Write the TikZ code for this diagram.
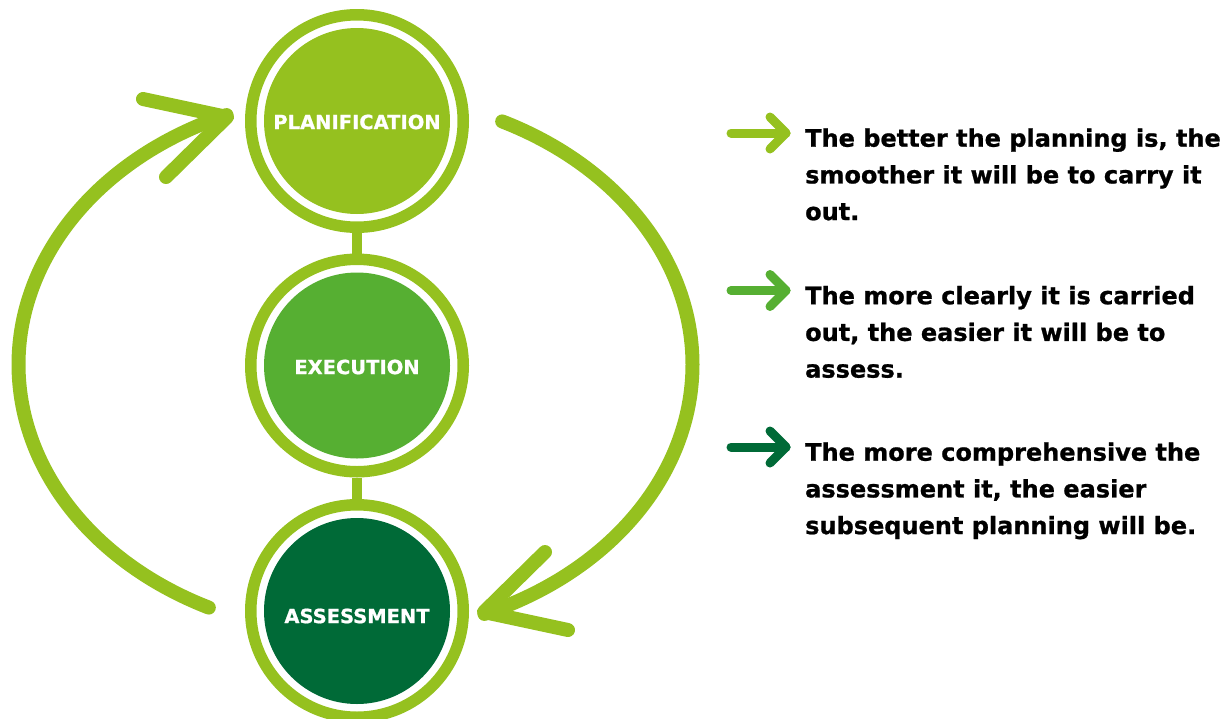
\documentclass[tikz,border=0pt]{standalone}
\usepackage{fontspec}
\setmainfont{DejaVu Sans}
\newfontfamily\heavyfont[FakeBold=0.9]{DejaVu Sans Bold}
\definecolor{lg}{HTML}{95C11F}
\definecolor{mg}{HTML}{56AF32}
\definecolor{dg}{HTML}{006A37}
\begin{document}
\begin{tikzpicture}[x=1pt,y=-1pt,
  ringnode/.style={circle, draw=lg, line width=11.5pt, minimum size=212.5pt, inner sep=0pt},
  stage/.style={circle, minimum size=186pt, inner sep=0pt},
  stagetext/.style={inner sep=0pt, text=white, font=\heavyfont\fontsize{19.5}{22}\selectfont},
  stem/.style={draw=lg, line width=10pt},
  loopline/.style={draw=lg, line width=14pt, line cap=round, line join=round},
  bullet/.style={line width=9pt, line cap=round, line join=round},
  txt/.style={anchor=base west, inner sep=0pt, font=\heavyfont\fontsize{24}{36.7}\selectfont}
]
\useasboundingbox (0,0) rectangle (1231,718);
\clip (0,0) rectangle (1231,718);

% rings
\node[ringnode] (pr) at (357,121) {};
\node[ringnode] (er) at (357,365.5) {};
\node[ringnode] (ar) at (357,611) {};
% stems
\draw[stem] (pr.south) -- (er.north);
\draw[stem] (er.south) -- (ar.north);
% inner discs
\node[stage, fill=lg] (p) at (357,121) {};
\node[stage, fill=mg] (e) at (357,365.5) {};
\node[stage, fill=dg] (a) at (357,611) {};
\node[stagetext] (pt) at (357,122) {PLANIFICATION};
\node[stagetext] (et) at (357,367) {EXECUTION};
\node[stagetext] (at) at (357,616) {ASSESSMENT};

% big cycle arrows
\draw[loopline] plot[domain=115.8:247.5, samples=120, smooth] ({355.5+337*cos(\x)}, {364.5+270*sin(\x)});
\draw[loopline] (143,99) -- (227,117) -- (166,177);
\draw[loopline] plot[domain=-64.2:67.5, samples=120, smooth] ({355.5+337*cos(\x)}, {364.5+270*sin(\x)});
\draw[loopline] (568,630) -- (484,612) -- (545,552);

% text blocks
\node[txt] (t1a) at (805,146.7) {The better the planning is, the};
\node[txt] (t1b) at (805,183.4) {smoother it will be to carry it};
\node[txt] (t1c) at (805,220.1) {out.};
\node[txt] (t2a) at (805,304.2) {The more clearly it is carried};
\node[txt] (t2b) at (805,340.9) {out, the easier it will be to};
\node[txt] (t2c) at (805,377.6) {assess.};
\node[txt] (t3a) at (805,460.7) {The more comprehensive the};
\node[txt] (t3b) at (805,497.4) {assessment it, the easier};
\node[txt] (t3c) at (805,534.1) {subsequent planning will be.};

% bullet arrows
\draw[bullet, lg] (731,133) -- (786,133);
\draw[bullet, lg] (770,117) -- (786,133) -- (770,149);
\draw[bullet, mg] (731,290.5) -- (786,290.5);
\draw[bullet, mg] (770,274.5) -- (786,290.5) -- (770,306.5);
\draw[bullet, dg] (731,447) -- (786,447);
\draw[bullet, dg] (770,431) -- (786,447) -- (770,463);
\end{tikzpicture}
\end{document}
